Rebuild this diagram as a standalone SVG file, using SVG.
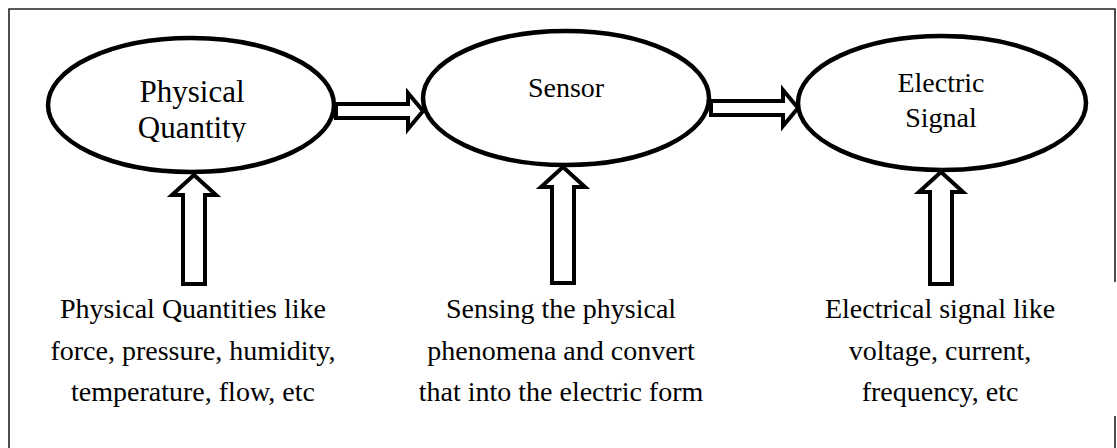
<svg xmlns="http://www.w3.org/2000/svg" width="1117" height="448" viewBox="0 0 1117 448">
  <style>
    .frame { fill: none; stroke: #222; stroke-width: 1.6; }
    .node { fill: #fff; stroke: #000; stroke-width: 4.5; }
    .block { fill: #fff; stroke: #000; stroke-width: 4; stroke-linejoin: miter; }
    .lbl { font-family: "Liberation Serif", "Times New Roman", serif; font-size: 28px; fill: #000; text-anchor: middle; }
    .big { font-size: 31px; }
  </style>
  <defs>
    <clipPath id="qclip"><rect x="0" y="0" width="1117" height="142"/></clipPath>
  </defs>

  <!-- outer frame -->
  <g id="frame">
    <path class="frame" d="M9,448 V9 H1115 V282"/>
    <path class="frame" d="M1115,416 V448"/>
  </g>

  <!-- block arrows between and into the stages -->
  <g id="connectors">
    <path class="block" d="M336,104 H408 V93 L423,111 L408,129 V118 H336 Z"/>
    <path class="block" d="M711,101 H783 V90 L798,108 L783,126 V115 H711 Z"/>
    <path class="block" d="M194,175 L216,195 H205 V284 H183 V195 H172 Z"/>
    <path class="block" d="M563,167 L585,187 H574 V283 H552 V187 H541 Z"/>
    <path class="block" d="M941,172 L963,192 H952 V284 H930 V192 H919 Z"/>
  </g>

  <g id="physical-quantity">
    <ellipse class="node" cx="191" cy="105" rx="143" ry="67"/>
    <g clip-path="url(#qclip)">
      <text class="lbl big" x="192" y="102">Physical</text>
      <text class="lbl big" x="192" y="138">Quantity</text>
    </g>
  </g>

  <g id="sensor">
    <ellipse class="node" cx="566" cy="98" rx="143" ry="67"/>
    <text class="lbl" x="566" y="97">Sensor</text>
  </g>

  <g id="electric-signal">
    <ellipse class="node" cx="942" cy="103" rx="144" ry="67"/>
    <text class="lbl" x="941" y="92">Electric</text>
    <text class="lbl" x="941" y="127">Signal</text>
  </g>

  <g id="note-quantities">
    <text class="lbl" x="193" y="318">Physical Quantities like</text>
    <text class="lbl" x="193" y="360">force, pressure, humidity,</text>
    <text class="lbl" x="193" y="401">temperature, flow, etc</text>
  </g>

  <g id="note-sensing">
    <text class="lbl" x="561" y="318">Sensing the physical</text>
    <text class="lbl" x="561" y="360">phenomena and convert</text>
    <text class="lbl" x="561" y="401">that into the electric form</text>
  </g>

  <g id="note-signal">
    <text class="lbl" x="940" y="318">Electrical signal like</text>
    <text class="lbl" x="940" y="360">voltage, current,</text>
    <text class="lbl" x="940" y="401">frequency, etc</text>
  </g>
</svg>
